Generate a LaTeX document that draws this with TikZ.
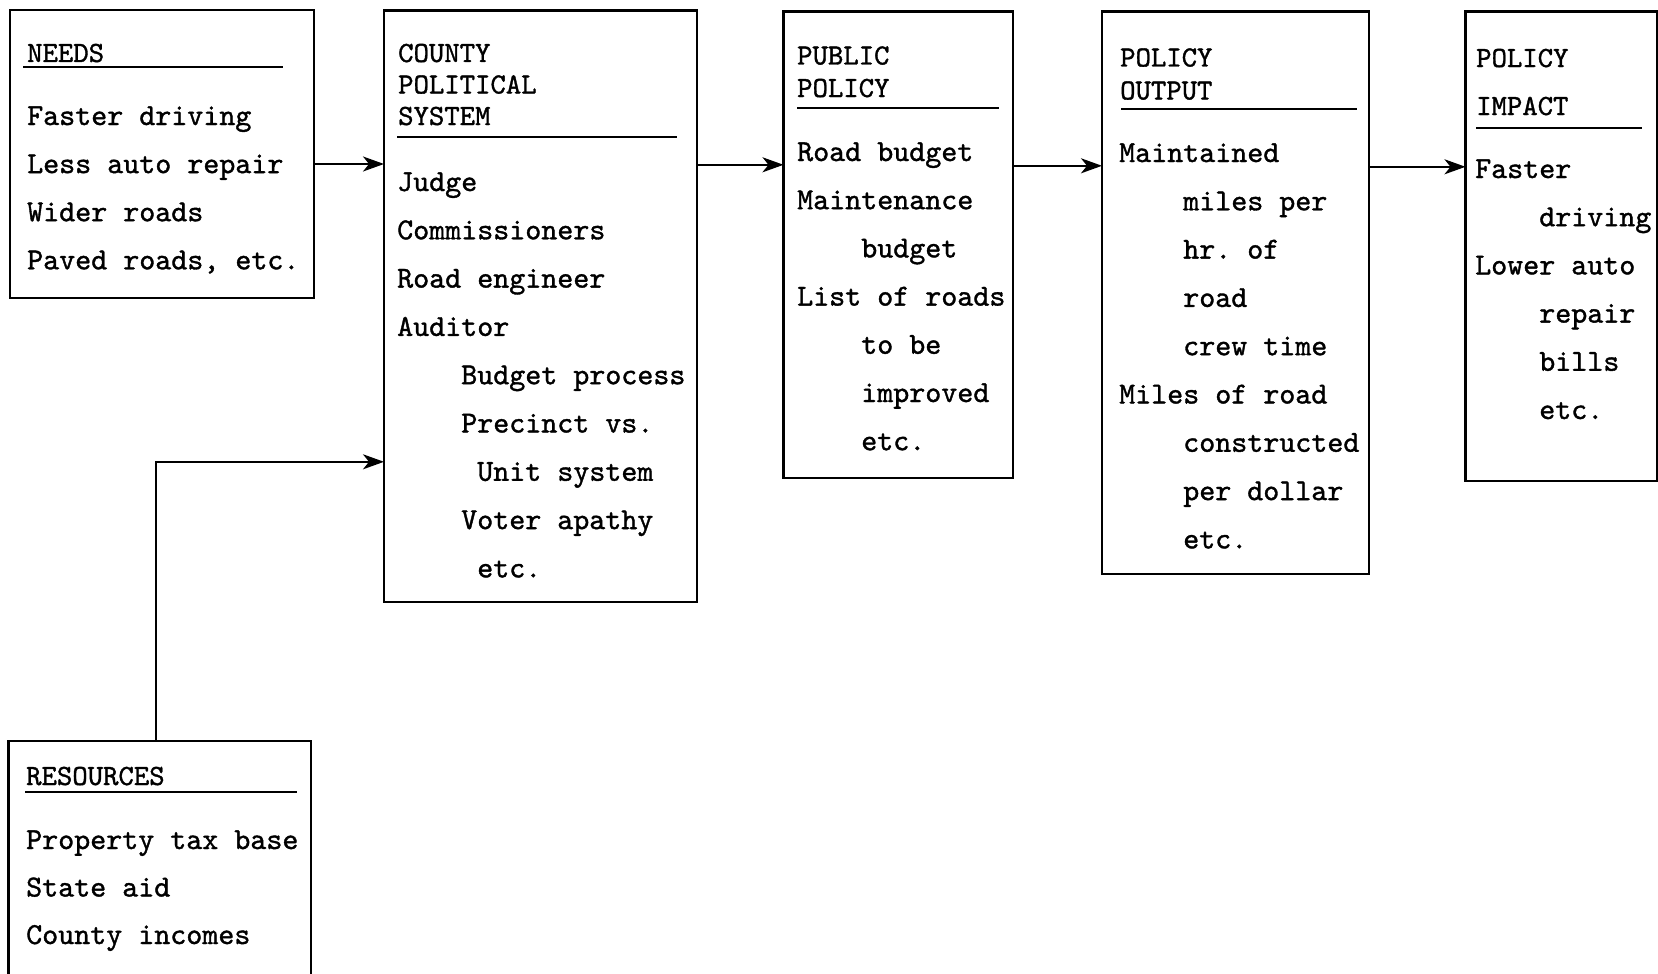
\documentclass[tikz,border=0pt]{standalone}
\usepackage{fontspec}
\newfontfamily\typew{lmmono10-regular.otf}[FakeBold=1.2]
\usepackage{tikz}
\usetikzlibrary{arrows.meta,calc}
\frenchspacing

\tikzset{
  blk/.style={draw, line width=2.2pt, anchor=north west, inner sep=0pt, outer sep=0pt},
  txt/.style={font=\fontsize{30.5}{36}\selectfont\typew, anchor=base west, inner sep=0pt},
  head/.style={font=\fontsize{29.3}{34}\selectfont\typew, anchor=base west, inner sep=0pt},
  rule/.style={line width=1.8pt},
  arr/.style={line width=2pt, -{Stealth[length=21pt,width=15pt,inset=6pt]}},
}
\newcommand\ind{\hphantom{xxxx}}
\newcommand\indd{\hphantom{xxxxx}}
% name, style, x, first baseline, line gap, lines
\newcommand\stack[6]{%
  \foreach \row [count=\k from 0] in {#6}
    \node[#2] (#1-\k) at (#3,#4+#5*\k) {\row};
}

\begin{document}
\begin{tikzpicture}[x=1pt,y=-1pt]
  \useasboundingbox (0,0) rectangle (1658,974);
  \clip (0,0) rectangle (1658,974);

  % boxes, 1 unit = 1px of the page
  \node[blk, minimum width=304pt, minimum height=288pt] (needs) at (10,10) {};
  \node[blk, minimum width=313pt, minimum height=591pt] (county) at (384,10.6) {};
  \node[blk, minimum width=229.5pt, minimum height=466pt] (public) at (783.5,11.6) {};
  \node[blk, minimum width=267pt, minimum height=562pt] (output) at (1102,11.6) {};
  \node[blk, minimum width=191.5pt, minimum height=469pt] (impact) at (1465.5,11.6) {};
  \node[blk, minimum width=302.5pt, minimum height=300pt] (res) at (8.5,741) {};

  % NEEDS
  \stack{needs-h}{head}{27}{62}{0}{NEEDS}
  \draw[rule] (23,67) -- (283,67);
  \stack{needs-t}{txt}{27}{125}{48.1}{Faster driving, Less auto repair, Wider roads, {Paved roads, etc.}}

  % COUNTY POLITICAL SYSTEM
  \stack{county-h}{head}{398}{62}{31.5}{COUNTY, POLITICAL, SYSTEM}
  \draw[rule] (397,137) -- (677,137);
  \stack{county-t}{txt}{397}{191}{48.3}{Judge, Commissioners, Road engineer, Auditor,
    \ind Budget process, \ind Precinct vs., \indd Unit system, \ind Voter apathy, \indd etc.}

  % PUBLIC POLICY
  \stack{public-h}{head}{797}{64.5}{32.5}{PUBLIC, POLICY}
  \draw[rule] (797,108) -- (999,108);
  \stack{public-t}{txt}{797}{161}{48.2}{Road budget, Maintenance, \ind budget, List of roads,
    \ind to be, \ind improved, \ind etc.}

  % POLICY OUTPUT
  \stack{output-h}{head}{1120}{66.5}{33}{POLICY, OUTPUT}
  \draw[rule] (1121,109) -- (1357,109);
  \stack{output-t}{txt}{1119}{162}{48.3}{Maintained, \ind miles per, \ind hr. of, \ind road,
    \ind crew time, Miles of road, \ind constructed, \ind per dollar, \ind etc.}

  % POLICY IMPACT
  \stack{impact-h}{head}{1476}{67}{48}{POLICY, IMPACT}
  \draw[rule] (1476,128) -- (1642,128);
  \stack{impact-t}{txt}{1475}{178}{48.2}{Faster, \ind driving, Lower auto, \ind repair,
    \ind bills, \ind etc.}

  % RESOURCES
  \stack{res-h}{head}{26}{785}{0}{RESOURCES}
  \draw[rule] (25,792) -- (297,792);
  \stack{res-t}{txt}{26}{849}{47.5}{Property tax base, State aid, County incomes}

  % flow
  \draw[arr] ([yshift=-10pt]needs.east) -- ([yshift=-10pt]needs.east -| county.west);
  \draw[arr] ([yshift=141.3pt]county.east) -- ([yshift=141.3pt]county.east -| public.west);
  \draw[arr] ([yshift=78.8pt]public.east) -- ([yshift=78.8pt]public.east -| output.west);
  \draw[arr] ([yshift=125.8pt]output.east) -- ([yshift=125.8pt]output.east -| impact.west);
  \draw[arr] ([xshift=-3.75pt]res.north) |- ([yshift=-155.7pt]county.west);
\end{tikzpicture}
\end{document}
